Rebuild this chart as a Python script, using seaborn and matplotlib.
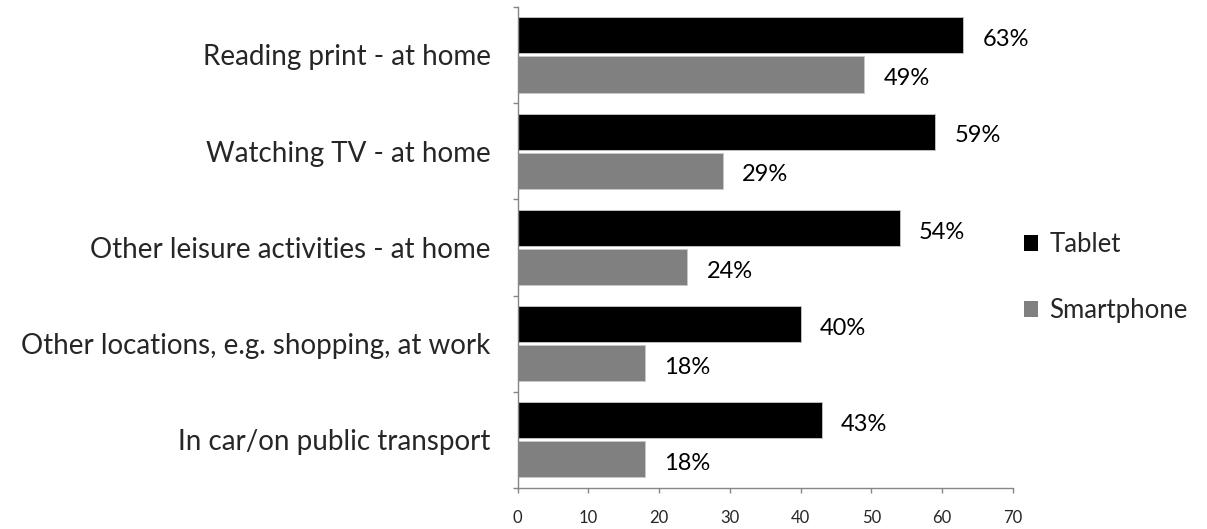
import matplotlib
matplotlib.use("Agg")
import matplotlib.pyplot as plt
from matplotlib.ticker import FixedLocator
import seaborn as sns
import pandas as pd

categories = [
    "Reading print - at home",
    "Watching TV - at home",
    "Other leisure activities - at home",
    "Other locations, e.g. shopping, at work",
    "In car/on public transport",
]
tablet = [63, 59, 54, 40, 43]
smartphone = [49, 29, 24, 18, 18]
series = ["Tablet", "Smartphone"]
colors = ["#000000", "#808080"]
x_ticks = [0, 10, 20, 30, 40, 50, 60, 70]

df = pd.DataFrame({
    "Activity": categories * 2,
    "Share": tablet + smartphone,
    "Device": [series[0]] * len(categories) + [series[1]] * len(categories),
})

sns.set_theme(style="white")
plt.rcParams["font.family"] = ["Lato", "DejaVu Sans"]

fig = plt.figure(figsize=(12.07, 5.29), dpi=100)
ax = fig.add_axes([0.429, 0.0775, 0.410, 0.9095])

sns.barplot(data=df, y="Activity", x="Share", hue="Device", order=categories,
            hue_order=series, palette=colors, orient="h", width=0.8125, gap=0.077,
            edgecolor="#c8c8c8", linewidth=0.6, ax=ax, legend=True)

# percentage labels just past the end of each bar
for cont in ax.containers:
    anns = ax.bar_label(cont, labels=[f"{v:.0f}%" for v in cont.datavalues],
                        padding=14, fontsize=17, color="#000000")
    for a in anns:
        a.xyann = (14, -3)

ax.set_xlim(0, 70)
ax.set_ylim(len(categories) - 0.5, -0.5)
ax.set_xticks(x_ticks)
ax.set_xticklabels([str(t) for t in x_ticks], fontsize=12)
ax.set_xlabel("")
ax.set_ylabel("")
ax.tick_params(axis="x", bottom=True, direction="out", length=3.6, width=1,
               color="#868686", pad=12)
ax.tick_params(axis="y", which="major", left=False, length=0, pad=19.5, labelsize=20)
ax.yaxis.set_minor_locator(FixedLocator([i - 0.5 for i in range(len(categories) + 1)]))
ax.tick_params(axis="y", which="minor", left=True, direction="out", length=3.6,
               width=1, color="#868686")

for side in ["top", "right"]:
    ax.spines[side].set_visible(False)
for side in ["left", "bottom"]:
    ax.spines[side].set_color("#868686")
    ax.spines[side].set_linewidth(1)

handles, labels = ax.get_legend_handles_labels()
for h in handles:
    h.set_edgecolor("none")
ax.legend(handles, labels, loc="center left", bbox_to_anchor=(1.022, 0.4375),
          frameon=False, fontsize=18.5, handlelength=0.55, handleheight=0.55,
          handletextpad=0.45, labelspacing=1.6, borderaxespad=0, borderpad=0)

fig.savefig("out.png", dpi=100)
